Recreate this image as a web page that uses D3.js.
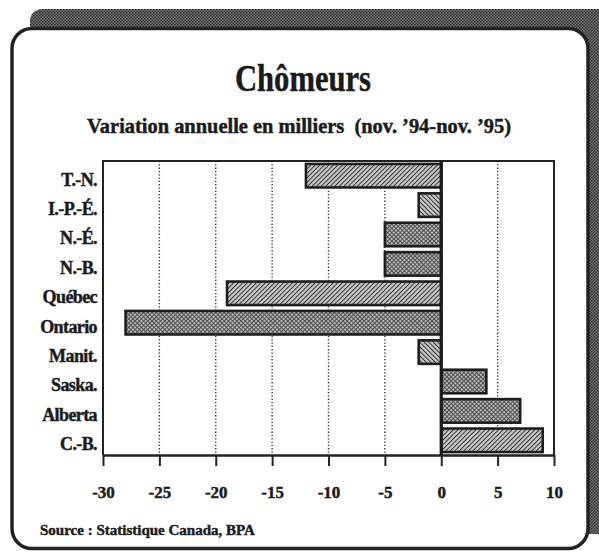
<!DOCTYPE html>
<html>
<head>
<meta charset="utf-8">
<script src="https://cdn.jsdelivr.net/npm/d3@7"></script>
<style>
body { margin: 0; background: #fff; }
text { font-family: "Liberation Serif", "Times New Roman", serif; font-weight: bold; fill: #1b1b1b; stroke: #1b1b1b; stroke-width: 0.45px; white-space: pre; }
</style>
</head>
<body>
<script>
// data
var provinces = ["T.-N.", "I.-P.-É.", "N.-É.", "N.-B.", "Québec", "Ontario", "Manit.", "Saska.", "Alberta", "C.-B."];
var variation = [-12, -2, -5, -5, -19, -28, -2, 4, 7, 9];
var xTicks = [-30, -25, -20, -15, -10, -5, 0, 5, 10];
var titleText = "Chômeurs";
var subtitleText = "Variation annuelle en milliers  (nov. ’94-nov. ’95)";
var sourceText = "Source : Statistique Canada, BPA";

// which fill texture each bar gets
var barFill = ["hatchF", "hatchB", "check", "check", "hatchF", "checkB", "hatchB", "check", "checkB", "hatchF"];

var width = 599,
    height = 552;

var svg = d3.select("body").append("svg")
  .attr("width", width)
  .attr("height", height);

var defs = svg.append("defs");

function hatch(id, angle, gap, sw, bg){
  var p = defs.append("pattern")
    .attr("id", id)
    .attr("patternUnits", "userSpaceOnUse")
    .attr("width", gap).attr("height", gap)
    .attr("patternTransform", "rotate(" + angle + ")");
  p.append("rect").attr("width", gap).attr("height", gap).attr("fill", bg);
  p.append("line")
    .attr("x1", 0).attr("y1", 0).attr("x2", 0).attr("y2", gap)
    .attr("stroke", "#222").attr("stroke-width", sw);
  return p;
}
hatch("hatchF", 45, 3.2, 1.7, "#c4c4c4");
hatch("hatchB", -45, 3.2, 1.7, "#c4c4c4");
var c1 = hatch("check", 45, 3, 1.4, "#bcbcbc");
c1.append("line").attr("x1", 0).attr("y1", 1.5).attr("x2", 3).attr("y2", 1.5)
  .attr("stroke", "#444").attr("stroke-width", 0.9);
var c2 = hatch("checkB", -45, 3, 1.4, "#bcbcbc");
c2.append("line").attr("x1", 0).attr("y1", 1.5).attr("x2", 3).attr("y2", 1.5)
  .attr("stroke", "#444").attr("stroke-width", 0.9);

// stippled shadow behind the frame
var sh = defs.append("pattern")
  .attr("id", "shadow")
  .attr("patternUnits", "userSpaceOnUse")
  .attr("width", 3).attr("height", 3);
sh.append("rect").attr("width", 3).attr("height", 3).attr("fill", "#7a7a7a");
sh.append("rect").attr("width", 1.5).attr("height", 1.5).attr("fill", "#262626");
sh.append("rect").attr("x", 1.5).attr("y", 1.5).attr("width", 1.5).attr("height", 1.5).attr("fill", "#303030");

svg.append("rect")
  .attr("x", 30).attr("y", 9)
  .attr("width", 580).attr("height", 525)
  .attr("rx", 12)
  .attr("fill", "url(#shadow)");

svg.append("rect")
  .attr("x", 12).attr("y", 28.5)
  .attr("width", 576).attr("height", 520)
  .attr("rx", 20)
  .attr("fill", "#fff")
  .attr("stroke", "#222")
  .attr("stroke-width", 3.5);

// titles
svg.append("text")
  .attr("x", 303).attr("y", 91)
  .attr("text-anchor", "middle")
  .attr("font-size", 37)
  .attr("textLength", 136)
  .attr("lengthAdjust", "spacingAndGlyphs")
  .text(titleText);

svg.append("text")
  .attr("x", 299).attr("y", 133)
  .attr("text-anchor", "middle")
  .attr("font-size", 20)
  .attr("textLength", 424)
  .attr("lengthAdjust", "spacingAndGlyphs")
  .text(subtitleText);

// scales
var x = d3.scaleLinear()
  .domain([-30, 10])
  .range([103, 554]);

var y = d3.scaleBand()
  .domain(provinces)
  .range([161, 455])
  .paddingInner(0.2)
  .paddingOuter(0.1);

var plot = svg.append("g");

// dotted grid
plot.selectAll("line.grid")
  .data(xTicks.filter(function(d){ return d != 0 && d != -30 && d != 10; }))
  .enter().append("line")
  .attr("class", "grid")
  .attr("x1", function(d){ return x(d); })
  .attr("x2", function(d){ return x(d); })
  .attr("y1", 161).attr("y2", 455)
  .attr("stroke", "#333")
  .attr("stroke-width", 1.4)
  .attr("stroke-dasharray", "1.3,2");

// plot box
plot.append("path")
  .attr("d", "M" + x(-30) + ",455V161H" + x(10) + "V455")
  .attr("fill", "none")
  .attr("stroke", "#222")
  .attr("stroke-width", 2);

// bars
plot.selectAll("rect.bar")
  .data(variation)
  .enter().append("rect")
  .attr("class", "bar")
  .attr("x", function(d){ return x(Math.min(0, d)); })
  .attr("y", function(d, i){ return y(provinces[i]); })
  .attr("width", function(d){ return Math.abs(x(d) - x(0)); })
  .attr("height", y.bandwidth())
  .attr("fill", function(d, i){ return "url(#" + barFill[i] + ")"; })
  .attr("stroke", "#1e1e1e")
  .attr("stroke-width", 2.6);

// zero line
plot.append("line")
  .attr("x1", x(0)).attr("x2", x(0))
  .attr("y1", 161).attr("y2", 455)
  .attr("stroke", "#1b1b1b")
  .attr("stroke-width", 3.2);

// x axis
var xAxis = svg.append("g")
  .attr("transform", "translate(0,455)")
  .call(d3.axisBottom(x).tickValues(xTicks).tickSize(11).tickSizeOuter(0).tickPadding(20));
xAxis.select(".domain").attr("stroke", "#222").attr("stroke-width", 2.4);
xAxis.selectAll(".tick line").attr("stroke", "#222").attr("stroke-width", 2);
xAxis.selectAll(".tick text")
  .attr("font-family", null)
  .attr("font-size", 17)
  .attr("fill", "#1b1b1b")
  .text(function(d){ return d; });

// province labels
var yAxis = svg.append("g")
  .attr("transform", "translate(97,0)")
  .call(d3.axisLeft(y).tickSize(0).tickPadding(0));
yAxis.select(".domain").remove();
yAxis.selectAll(".tick text")
  .attr("font-family", null)
  .attr("font-size", 18)
  .attr("letter-spacing", "-0.6px")
  .attr("fill", "#1b1b1b")
  .attr("dy", "0.55em");

// source
svg.append("text")
  .attr("x", 40).attr("y", 535)
  .attr("font-size", 15)
  .text(sourceText);
</script>
</body>
</html>
